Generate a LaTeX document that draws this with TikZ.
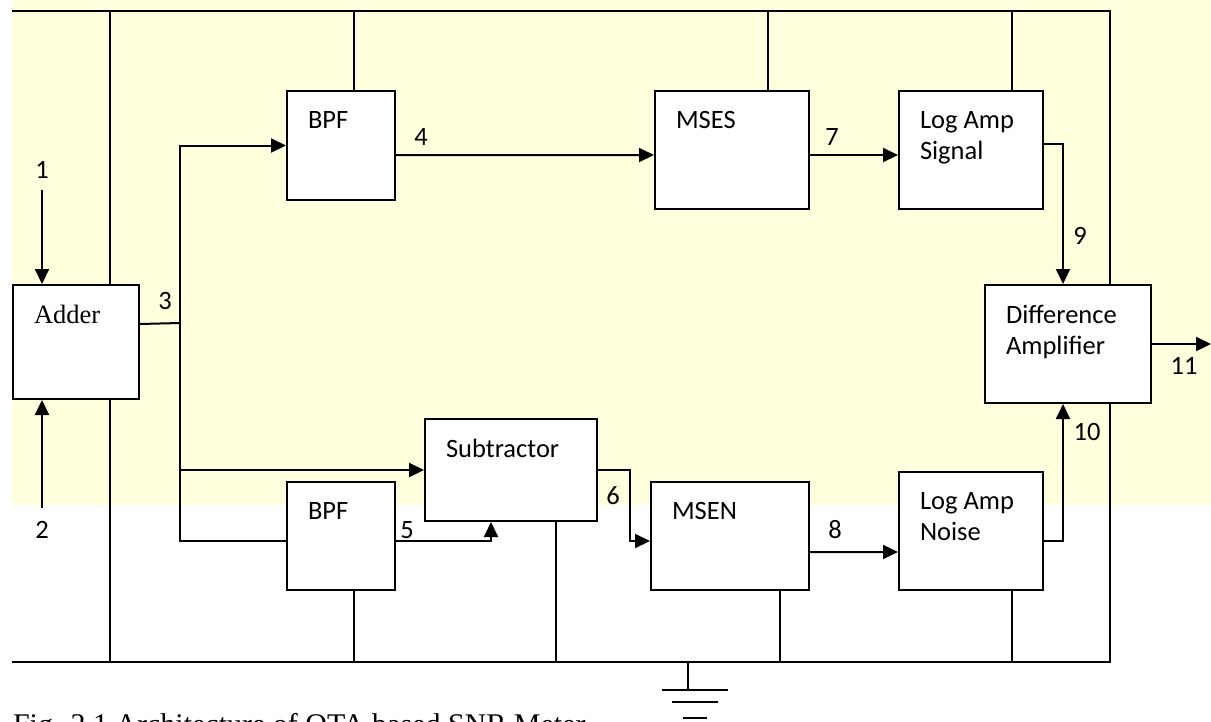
\documentclass[tikz,border=0pt]{standalone}
\usepackage{fontspec}
\setmainfont{Carlito}
\newfontfamily\tnr{Liberation Serif}
\usetikzlibrary{arrows.meta}
\definecolor{paleyellow}{RGB}{255,255,221}

\begin{document}
\begin{tikzpicture}[x=0.4pt, y=-0.4pt, line width=0.8pt,
    blk/.style 2 args={draw, fill=white, anchor=north west, inner sep=0pt,
      minimum width=#1*0.4pt, minimum height=#2*0.4pt},
    txt/.style={anchor=north west, inner sep=0pt, align=left,
      font=\fontsize{10.6}{12.4}\selectfont},
    num/.style={inner sep=0pt, font=\fontsize{10.6}{12.4}\selectfont},
    arr/.style={-{Triangle[length=6pt,width=5.6pt]}}]
    \useasboundingbox (0,0) rectangle (1211,721);
    \fill[paleyellow] (12,0) rectangle (1211,505);

    % blocks
    \node[blk={126}{114}] (adder) at (12,284) {};
    \node[blk={108}{109}] (bpfa) at (286,90) {};
    \node[blk={154}{118}] (mses) at (654,90) {};
    \node[blk={144}{118}] (las) at (898,90) {};
    \node[blk={166}{118}] (diff) at (984,284) {};
    \node[blk={172}{102}] (sub) at (424,418) {};
    \node[blk={108}{108}] (bpfb) at (286,481) {};
    \node[blk={158}{108}] (msen) at (650,481) {};
    \node[blk={144}{118}] (lan) at (898,471) {};

    % block texts
    \node[txt, font=\tnr\fontsize{10.6}{12.4}\selectfont] (adder-t) at ([shift={(21,20)}]adder.north west) {Adder};
    \foreach \n/\t in {bpfa/BPF, mses/MSES, las/{Log Amp\\Signal}, diff/{Difference\\Amplifier},
        sub/Subtractor, bpfb/BPF, msen/MSEN, lan/{Log Amp\\Noise}}
      \node[txt] (\n-t) at ([shift={(21,20)}]\n.north west) {\t};

    % signal numbers
    \node[num] (n1) at (42,170) {1};
    \node[num] (n2) at (42,530) {2};
    \node[num] (n3) at (165,301) {3};
    \node[num] (n4) at (421,137) {4};
    \node[num] (n5) at (407,530) {5};
    \node[num] (n6) at (613,496) {6};
    \node[num] (n7) at (832,137) {7};
    \node[num] (n8) at (835,530) {8};
    \node[num] (n9) at (1080,236) {9};
    \node[num] (n10) at (1087,432) {10};
    \node[num] (n11) at (1184,366) {11};

    % inputs and adder output
    \draw[arr] ([yshift=-4pt]n1.south) -- (n1.south |- adder.north);
    \draw[arr] ([yshift=5pt]n2.north) -- (n2.north |- adder.south);
    \coordinate (sp) at (180,323);
    \draw ([yshift=7.2pt]adder.east) -- (sp);
    \draw[arr] (sp) |- (bpfa.west);
    \draw[arr] (sp) |- (sub.west);
    \draw (sp) |- ([yshift=-2pt]bpfb.west);

    % signal path
    \draw[arr] ([yshift=-3.8pt]bpfa.east) -- ([yshift=-2pt]mses.west);
    \draw[arr] ([yshift=-2pt]mses.east) -- ([yshift=-2pt]las.west);
    \draw[arr] ([yshift=2.4pt]las.east) -| ([xshift=-2pt]diff.north);

    % noise path
    \draw[arr] ([yshift=-2pt]bpfb.east) -| ([xshift=-8pt]sub.south);
    \draw[arr] (sub.east) -- ++(32,0) |- ([yshift=-2pt]msen.west);
    \draw[arr] ([yshift=-6.4pt]msen.east) -- ([yshift=-8.4pt]lan.west);
    \draw[arr] ([yshift=-4pt]lan.east) -| ([xshift=-2pt]diff.south);

    % output
    \coordinate (out) at (1211,343);
    \draw[arr] (diff.east) -- (out |- diff.east);

    % supply rails
    \coordinate (tl) at (12,11);
    \coordinate (tr) at (1110,11);
    \coordinate (bl) at (12,662);
    \coordinate (br) at (1110,662);
    \draw (tl) -- (tr) -- (tr |- diff.north);
    \draw (bl) -- (br) -- (br |- diff.south);
    \foreach \n/\x in {adder/110, bpfa/354, mses/768, las/1012}
      \draw (\x,11) -- (\x,11 |- \n.north);
    \foreach \n/\x in {adder/110, bpfb/354, sub/556, msen/780, lan/1012}
      \draw (\x,662 |- \n.south) -- (\x,662);

    % ground
    \coordinate (gnd) at (688,662);
    \draw (gnd) -- ++(0,28);
    \draw ([shift={(-26,28)}]gnd) -- ++(66,0);
    \draw ([shift={(-16,40)}]gnd) -- ++(46,0);
    \draw ([shift={(-5,56)}]gnd) -- ++(24,0);

    \node[anchor=base west, inner sep=0pt, font=\tnr\fontsize{12}{14}\selectfont] (caption)
      at (12,734) {Fig. 2.1 Architecture of OTA based SNR Meter};
\end{tikzpicture}
\end{document}
